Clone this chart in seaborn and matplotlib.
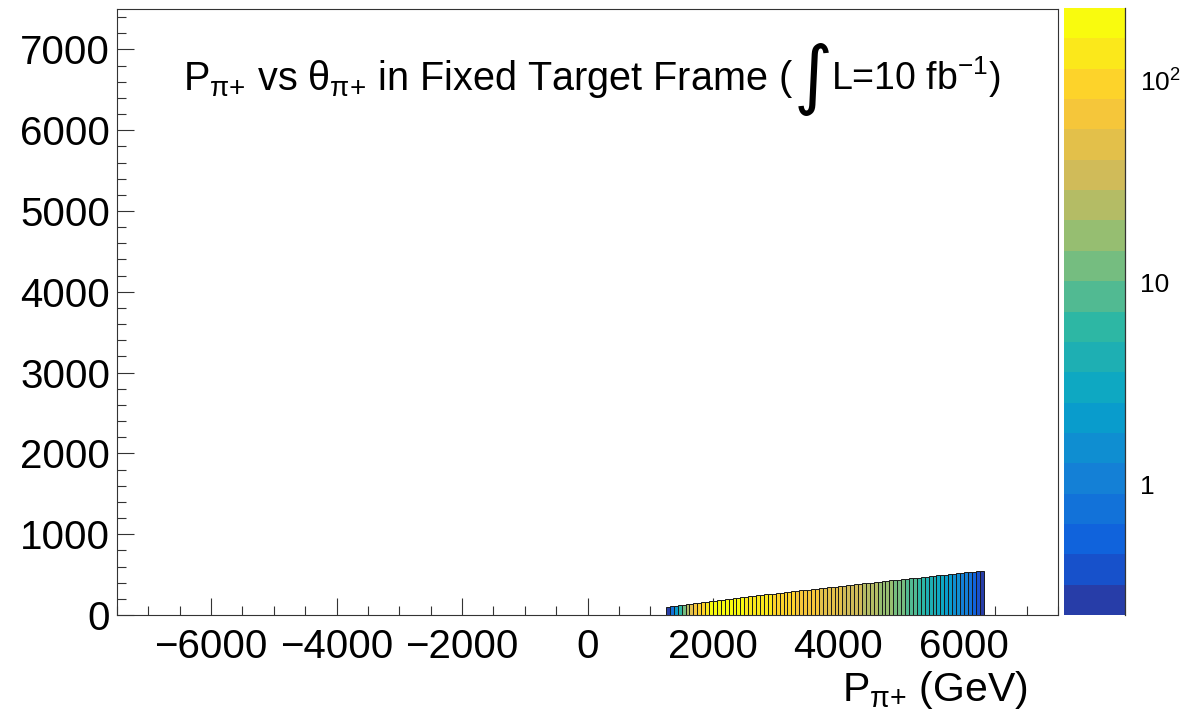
import numpy as np
import matplotlib
matplotlib.use("Agg")
import matplotlib.pyplot as plt
import seaborn as sns
from matplotlib.colors import LinearSegmentedColormap, ListedColormap, LogNorm
from matplotlib.cm import ScalarMappable
from matplotlib.ticker import MultipleLocator, FixedLocator, LogLocator, NullFormatter

# ---------------------------------------------------------------- data
# momentum binning of the filled region (GeV)
P_BIN_WIDTH = 62.5
P_FIRST_EDGE = 1250.0
N_FILLED = 81
p_centers = P_FIRST_EDGE + P_BIN_WIDTH * (np.arange(N_FILLED) + 0.5)

# upper edge of each momentum column on the vertical axis
theta_top = [
    103, 109, 115, 121, 127, 134, 140, 146, 152, 158,
    164, 170, 176, 183, 189, 195, 201, 207, 213, 219,
    225, 231, 237, 243, 249, 255, 260, 266, 271, 277,
    282, 287, 293, 298, 304, 309, 314, 320, 325, 331,
    336, 341, 347, 352, 358, 363, 368, 374, 379, 385,
    390, 395, 400, 406, 411, 416, 422, 427, 432, 437,
    443, 448, 453, 458, 464, 469, 474, 479, 485, 490,
    495, 500, 506, 511, 516, 521, 527, 532, 537, 542,
    548,
]

# events per column for 10 fb^-1
counts = [
    0.28, 0.7, 2.5, 6, 14, 28, 45, 65, 85, 110,
    140, 165, 185, 200, 210, 215, 210, 200, 185, 170,
    160, 150, 140, 135, 128, 120, 115, 108, 102, 97,
    92, 88, 84, 80, 76, 72, 68, 64, 60, 57,
    54, 51, 48, 44, 41, 38, 35, 33, 31, 29,
    27, 25, 23, 21, 19.5, 18, 16.5, 15, 13.5, 12,
    11, 10, 8.8, 7.6, 6.6, 5.7, 4.9, 4.2, 3.6, 3.1,
    2.7, 2.3, 2.0, 1.7, 1.4, 1.2, 1.0, 0.75, 0.5, 0.34,
    0.25,
]

z_min, z_max = 0.2255, 227.5
cbar_major = [1, 10, 100]
cbar_labels = ["1", "10", r"$10^{2}$"]

# ---------------------------------------------------------------- style
sns.set_theme(style="white")
plt.rcParams["font.family"] = ["Liberation Sans", "DejaVu Sans"]
plt.rcParams["mathtext.fontset"] = "custom"
plt.rcParams["mathtext.rm"] = "Liberation Sans"
plt.rcParams["mathtext.it"] = "Liberation Sans"
plt.rcParams["mathtext.bf"] = "Liberation Sans:bold"
plt.rcParams["mathtext.sf"] = "Liberation Sans"
plt.rcParams["axes.unicode_minus"] = True
plt.rcParams["text.color"] = "black"
plt.rcParams["xtick.color"] = "black"
plt.rcParams["ytick.color"] = "black"

# "bird" palette, 20 contour levels
bird_stops = [0.0, 0.125, 0.25, 0.375, 0.5, 0.625, 0.75, 0.875, 1.0]
bird_r = [0.2082, 0.0592, 0.0780, 0.0232, 0.1802, 0.5301, 0.8186, 0.9956, 0.9764]
bird_g = [0.1664, 0.3599, 0.5041, 0.6419, 0.7178, 0.7492, 0.7328, 0.7862, 0.9832]
bird_b = [0.5293, 0.8684, 0.8385, 0.7914, 0.6425, 0.4662, 0.3499, 0.1968, 0.0539]
bird = LinearSegmentedColormap.from_list(
    "bird", [(s, (r, g, b)) for s, r, g, b in zip(bird_stops, bird_r, bird_g, bird_b)]
)
n_levels = 20
cmap = ListedColormap([bird((i + 0.99) / n_levels) for i in range(n_levels)])
norm = LogNorm(vmin=z_min, vmax=z_max)

W, H = 1182, 724
fig = plt.figure(figsize=(W / 100, H / 100), dpi=100)
ax = fig.add_axes([117 / W, 1 - 615 / H, (1058 - 117) / W, (615 - 9) / H])
cax = fig.add_axes([1064 / W, 1 - 615 / H, (1125 - 1064) / W, (615 - 8) / H])

bin_idx = list(range(N_FILLED))
palette = {i: cmap(norm(c)) for i, c in zip(bin_idx, counts)}

sns.barplot(
    x=p_centers, y=theta_top, hue=bin_idx, palette=palette,
    native_scale=True, width=1.0, saturation=1, legend=False,
    errorbar=None, orient="x", edgecolor="#1a1a1a", linewidth=0.7, ax=ax,
)

ax.set_xlim(-7500, 7500)
ax.set_ylim(0, 7500)
ax.set_xlabel("")
ax.set_ylabel("")
ax.xaxis.set_major_locator(MultipleLocator(2000))
ax.xaxis.set_minor_locator(MultipleLocator(500))
ax.yaxis.set_major_locator(MultipleLocator(1000))
ax.yaxis.set_minor_locator(MultipleLocator(200))
ax.tick_params(which="both", direction="in", bottom=True, left=True,
               top=False, right=False, color="#333333", width=0.8)
ax.tick_params(which="major", length=12.5, labelsize=29, labelcolor="black")
ax.tick_params(which="minor", length=6.3)
ax.tick_params(axis="x", pad=9)
ax.tick_params(axis="y", pad=5)
for sp in ax.spines.values():
    sp.set_visible(True)
    sp.set_color("#333333")
    sp.set_linewidth(0.8)

# colour scale
cb = fig.colorbar(ScalarMappable(norm=norm, cmap=cmap), cax=cax)
cb.outline.set_visible(False)
cax.spines["right"].set_visible(True)
cax.spines["right"].set_color("#333333")
cax.spines["right"].set_linewidth(0.9)
cax.yaxis.set_ticks_position("right")
cax.yaxis.set_major_locator(FixedLocator(cbar_major))
cax.set_yticklabels(cbar_labels)
cax.yaxis.set_minor_locator(LogLocator(base=10, subs=np.arange(2, 10)))
cax.yaxis.set_minor_formatter(NullFormatter())
cax.tick_params(which="both", direction="in", color="#222222", width=0.9)
cax.tick_params(which="major", length=21.5, labelsize=19, pad=11,
                labelcolor="black")
cax.tick_params(which="minor", length=10.8)

# x-axis title
fig.text(1028 / W, 1 - 701 / H, r"P$_{\pi{+}}$ (GeV)", ha="right",
         va="baseline", fontsize=29.5, color="black")

# plot title, built in pieces so the integral sign can be drawn large
fig.canvas.draw()
renderer = fig.canvas.get_renderer()
inv = fig.transFigure.inverted()
base_y = 1 - 90 / H
t1 = fig.text(183 / W, base_y,
              r"P$_{\pi{+}}$ vs $\theta_{\pi{+}}$ in Fixed Target Frame (",
              ha="left", va="baseline", fontsize=28.5, color="black")
bb1 = t1.get_window_extent(renderer)
x2 = inv.transform((bb1.x1 + 1, 0))[0]
t2 = fig.text(x2, 1 - 100 / H, "\u222b", ha="left", va="baseline",
              fontsize=54, family="DejaVu Sans", color="black")
bb2 = t2.get_window_extent(renderer)
x3 = inv.transform((bb2.x1 - 2, 0))[0]
fig.text(x3, base_y, r"L=10 fb$^{-1}$)", ha="left", va="baseline",
         fontsize=27, color="black")

fig.savefig("out.png", dpi=100)
